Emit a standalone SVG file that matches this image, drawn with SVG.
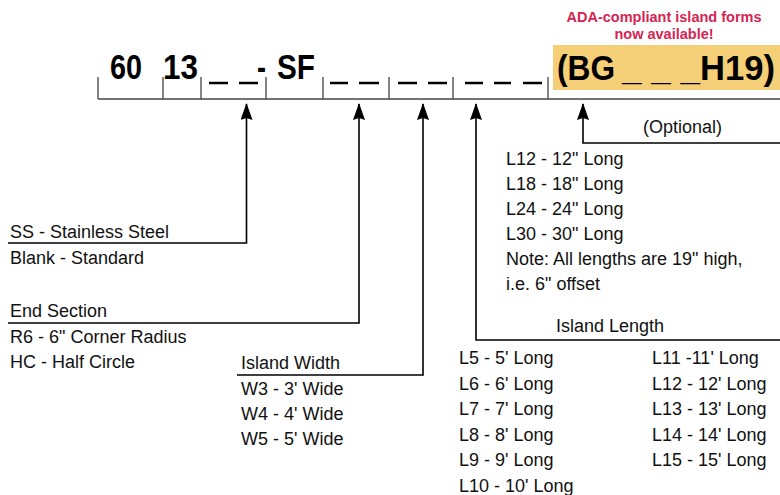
<svg xmlns="http://www.w3.org/2000/svg" width="780" height="495" viewBox="0 0 780 495">
<defs>
<style>
.t{font-family:"Liberation Sans",Arial,sans-serif;font-size:18px;fill:#111}
.big{font-family:"Liberation Sans",Arial,sans-serif;font-size:35px;font-weight:bold;fill:#000}
.red{font-family:"Liberation Sans",Arial,sans-serif;font-size:14.5px;font-weight:bold;fill:#D42552}
.tick{stroke:#444;stroke-width:1.3;fill:none}
.blank{stroke:#000;stroke-width:2.6}
.conn{stroke:#000;stroke-width:1.6;fill:none}
</style>
<marker id="ah" viewBox="0 0 12 18" refX="6" refY="1" markerWidth="12" markerHeight="18" markerUnits="userSpaceOnUse">
<path d="M6,0 L12,17 L6,15 L0,17 Z" fill="#000"/>
</marker>
</defs>
<rect width="780" height="495" fill="#fff"/>

<g id="code-bar">
<path class="tick" d="M98,99 H780 M98,77 V99 M163,77 V99 M201,77 V99 M266,77 V99 M323,77 V99 M389,77 V99 M453,77 V99 M548,77 V99"/>
<text class="big" x="110" y="79" textLength="32" lengthAdjust="spacingAndGlyphs">60</text>
<text class="big" x="163" y="79" textLength="35" lengthAdjust="spacingAndGlyphs">13</text>
<text class="big" x="257" y="79" textLength="9" lengthAdjust="spacingAndGlyphs">-</text>
<text class="big" x="277" y="79" textLength="38" lengthAdjust="spacingAndGlyphs">SF</text>
<path class="blank" d="M209,83 H228 M239,83 H258 M330,83 H348 M359,83 H379 M398,83 H417 M428,83 H447 M465,83 H483 M494,83 H511 M523,83 H542"/>
</g>

<g id="optional-box">
<rect x="553" y="45" width="227" height="45" fill="#F5CE78"/>
<text class="big" x="557" y="80" textLength="58" lengthAdjust="spacingAndGlyphs">(BG</text>
<text class="big" x="622" y="80" textLength="78" lengthAdjust="spacingAndGlyphs">_ _ _</text>
<text class="big" x="700" y="80" textLength="75" lengthAdjust="spacingAndGlyphs">H19)</text>
<text class="red" x="664" y="22" text-anchor="middle">ADA-compliant island forms</text>
<text class="red" x="664" y="39" text-anchor="middle">now available!</text>
</g>

<g id="connectors">
<path class="conn" marker-start="url(#ah)" d="M246.5,104 V243 H8"/>
<path class="conn" marker-start="url(#ah)" d="M359,104 V323 H8"/>
<path class="conn" marker-start="url(#ah)" d="M423,104 V375 H237"/>
<path class="conn" marker-start="url(#ah)" d="M476,104 V340 H780"/>
<path class="conn" marker-start="url(#ah)" d="M583,104 V143 H780"/>
</g>

<g id="material">
<text class="t" x="10" y="238">SS - Stainless Steel</text>
<text class="t" x="10" y="264">Blank - Standard</text>
</g>

<g id="end-section">
<text class="t" x="10" y="317">End Section</text>
<text class="t" x="10" y="343">R6 - 6" Corner Radius</text>
<text class="t" x="10" y="368">HC - Half Circle</text>
</g>

<g id="island-width">
<text class="t" x="241" y="369">Island Width</text>
<text class="t" x="241" y="395">W3 - 3' Wide</text>
<text class="t" x="241" y="420">W4 - 4' Wide</text>
<text class="t" x="241" y="445">W5 - 5' Wide</text>
</g>

<g id="island-length">
<text class="t" x="556" y="332">Island Length</text>
<text class="t" x="459" y="364">L5 - 5' Long</text>
<text class="t" x="459" y="390">L6 - 6' Long</text>
<text class="t" x="459" y="415">L7 - 7' Long</text>
<text class="t" x="459" y="441">L8 - 8' Long</text>
<text class="t" x="459" y="466">L9 - 9' Long</text>
<text class="t" x="459" y="492">L10 - 10' Long</text>
<text class="t" x="652" y="364">L11 -11' Long</text>
<text class="t" x="652" y="390">L12 - 12' Long</text>
<text class="t" x="652" y="415">L13 - 13' Long</text>
<text class="t" x="652" y="441">L14 - 14' Long</text>
<text class="t" x="652" y="466">L15 - 15' Long</text>
</g>

<g id="optional">
<text class="t" x="643" y="133">(Optional)</text>
<text class="t" x="506" y="165">L12 - 12" Long</text>
<text class="t" x="506" y="190">L18 - 18" Long</text>
<text class="t" x="506" y="215">L24 - 24" Long</text>
<text class="t" x="506" y="240">L30 - 30" Long</text>
<text class="t" x="506" y="265">Note: All lengths are 19" high,</text>
<text class="t" x="506" y="290">i.e. 6" offset</text>
</g>
</svg>
